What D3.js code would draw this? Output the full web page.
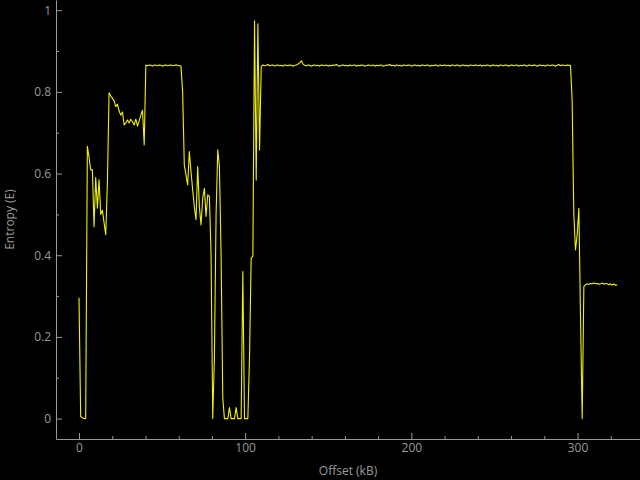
<html>
<head>
<meta charset="UTF-8">
<title>Entropy</title>
<style>
  body { margin: 0; background-color: #000000; }
  svg { display: block; }
  .axis text { fill: #9a9a9a; font-family: 'Open Sans', sans-serif; font-size: 12px; }
  .axis path, .axis line { stroke: #9a9a9a; }
  .title { fill: #9a9a9a; font-family: 'Open Sans', sans-serif; font-size: 12px; }
</style>
</head>
<body>
<svg id="chart" width="640" height="480"></svg>

<script src="https://d3js.org/d3.v7.min.js"></script>
<script>
// entropy per block (block size in kB)
var stepKB = 1.006;
var entropy = [
  0.296, 0.005, 0.002, 0.000, 0.000, 0.667, 0.640, 0.609, 0.609, 0.470,
  0.590, 0.515, 0.585, 0.500, 0.510, 0.480, 0.450, 0.580, 0.798, 0.790,
  0.784, 0.778, 0.764, 0.770, 0.753, 0.743, 0.751, 0.719, 0.724, 0.731,
  0.724, 0.733, 0.727, 0.719, 0.733, 0.716, 0.729, 0.743, 0.755, 0.670,
  0.866, 0.864, 0.866, 0.865, 0.863, 0.866, 0.865, 0.864, 0.866, 0.865,
  0.863, 0.865, 0.866, 0.864, 0.865, 0.866, 0.864, 0.865, 0.866, 0.865,
  0.864, 0.863, 0.800, 0.620, 0.597, 0.572, 0.654, 0.605, 0.560, 0.519,
  0.487, 0.617, 0.519, 0.474, 0.540, 0.564, 0.495, 0.548, 0.544, 0.400,
  0.000, 0.150, 0.500, 0.658, 0.617, 0.400, 0.050, 0.000, 0.000, 0.000,
  0.027, 0.000, 0.000, 0.000, 0.027, 0.000, 0.000, 0.000, 0.360, 0.000,
  0.000, 0.000, 0.150, 0.393, 0.397, 0.974, 0.584, 0.967, 0.658, 0.861,
  0.866, 0.864, 0.865, 0.867, 0.864, 0.865, 0.866, 0.863, 0.865, 0.866,
  0.864, 0.865, 0.863, 0.866, 0.865, 0.864, 0.866, 0.865, 0.863, 0.865,
  0.866, 0.868, 0.871, 0.876, 0.868, 0.865, 0.864, 0.866, 0.865, 0.863,
  0.865, 0.866, 0.864, 0.865, 0.863, 0.866, 0.865, 0.864, 0.866, 0.863,
  0.865, 0.864, 0.866, 0.865, 0.867, 0.864, 0.863, 0.865, 0.866, 0.864,
  0.865, 0.863, 0.866, 0.864, 0.865, 0.866, 0.863, 0.865, 0.864, 0.866,
  0.865, 0.863, 0.864, 0.866, 0.865, 0.864, 0.866, 0.863, 0.865, 0.864,
  0.866, 0.865, 0.863, 0.864, 0.866, 0.865, 0.867, 0.864, 0.865, 0.863,
  0.866, 0.864, 0.865, 0.863, 0.866, 0.865, 0.864, 0.866, 0.865, 0.863,
  0.865, 0.866, 0.864, 0.865, 0.863, 0.866, 0.865, 0.864, 0.866, 0.865,
  0.863, 0.865, 0.864, 0.866, 0.865, 0.863, 0.866, 0.864, 0.865, 0.866,
  0.864, 0.865, 0.863, 0.866, 0.865, 0.864, 0.866, 0.865, 0.863, 0.865,
  0.866, 0.864, 0.865, 0.863, 0.866, 0.865, 0.864, 0.866, 0.865, 0.864,
  0.866, 0.863, 0.865, 0.864, 0.866, 0.865, 0.863, 0.865, 0.866, 0.864,
  0.865, 0.863, 0.866, 0.865, 0.864, 0.866, 0.865, 0.863, 0.865, 0.866,
  0.864, 0.865, 0.866, 0.863, 0.865, 0.864, 0.866, 0.865, 0.863, 0.866,
  0.865, 0.864, 0.866, 0.865, 0.863, 0.865, 0.866, 0.864, 0.865, 0.863,
  0.866, 0.865, 0.864, 0.866, 0.865, 0.863, 0.865, 0.867, 0.864, 0.866,
  0.865, 0.864, 0.866, 0.865, 0.865, 0.780, 0.500, 0.413, 0.450, 0.515,
  0.250, 0.000, 0.323, 0.328, 0.330, 0.329, 0.331, 0.330, 0.332, 0.330,
  0.331, 0.329, 0.330, 0.332, 0.329, 0.331, 0.330, 0.328, 0.330, 0.327,
  0.330, 0.326, 0.328
];

var xMajorTicks = [0, 100, 200, 300];
var xMinorTicks = [20, 40, 60, 80, 120, 140, 160, 180, 220, 240, 260, 280, 320];
var yMajorTicks = [0, 0.2, 0.4, 0.6, 0.8, 1];
var yMinorTicks = [0.1, 0.3, 0.5, 0.7, 0.9];

var svg = d3.select("#chart");
var mLeft = 56, mRight = 640, mTop = 0, mBottom = 439;

var x = d3.scaleLinear().domain([-13.84, 337.6]).range([mLeft, mRight]);
var y = d3.scaleLinear().domain([-0.05, 1.025]).range([mBottom, mTop]);

// minor ticks first, then major axis with labels
svg.append("g")
    .attr("class", "axis")
    .attr("transform", "translate(0," + mBottom + ")")
    .call(d3.axisBottom(x).tickValues(xMinorTicks).tickSize(-3).tickFormat(""))
    .select(".domain").remove();
svg.append("g")
    .attr("class", "axis")
    .attr("transform", "translate(0," + mBottom + ")")
    .call(d3.axisBottom(x).tickValues(xMajorTicks).tickSizeInner(-6).tickSizeOuter(0).tickPadding(4)
        .tickFormat(d3.format("d")));

svg.append("g")
    .attr("class", "axis")
    .attr("transform", "translate(" + mLeft + ",0)")
    .call(d3.axisLeft(y).tickValues(yMinorTicks).tickSize(-3).tickFormat(""))
    .select(".domain").remove();
svg.append("g")
    .attr("class", "axis")
    .attr("transform", "translate(" + mLeft + ",0)")
    .call(d3.axisLeft(y).tickValues(yMajorTicks).tickSizeInner(-6).tickSizeOuter(0).tickPadding(5)
        .tickFormat(function(d) { return d === 0 || d === 1 ? d : d3.format(".1f")(d); }));

var line = d3.line()
    .x(function(d, i) { return x(i * stepKB); })
    .y(function(d) { return y(d); });

svg.append("path")
    .datum(entropy)
    .attr("fill", "none")
    .attr("stroke", "#f2f200")
    .attr("stroke-width", 1.1)
    .attr("stroke-linejoin", "round")
    .attr("d", line);

svg.append("text")
    .attr("class", "title")
    .attr("x", (mLeft + mRight) / 2)
    .attr("y", 475)
    .attr("text-anchor", "middle")
    .text("Offset (kB)");

svg.append("text")
    .attr("class", "title")
    .attr("transform", "translate(14," + (mTop + mBottom) / 2 + ") rotate(-90)")
    .attr("text-anchor", "middle")
    .text("Entropy (E)");
</script>
</body>
</html>
